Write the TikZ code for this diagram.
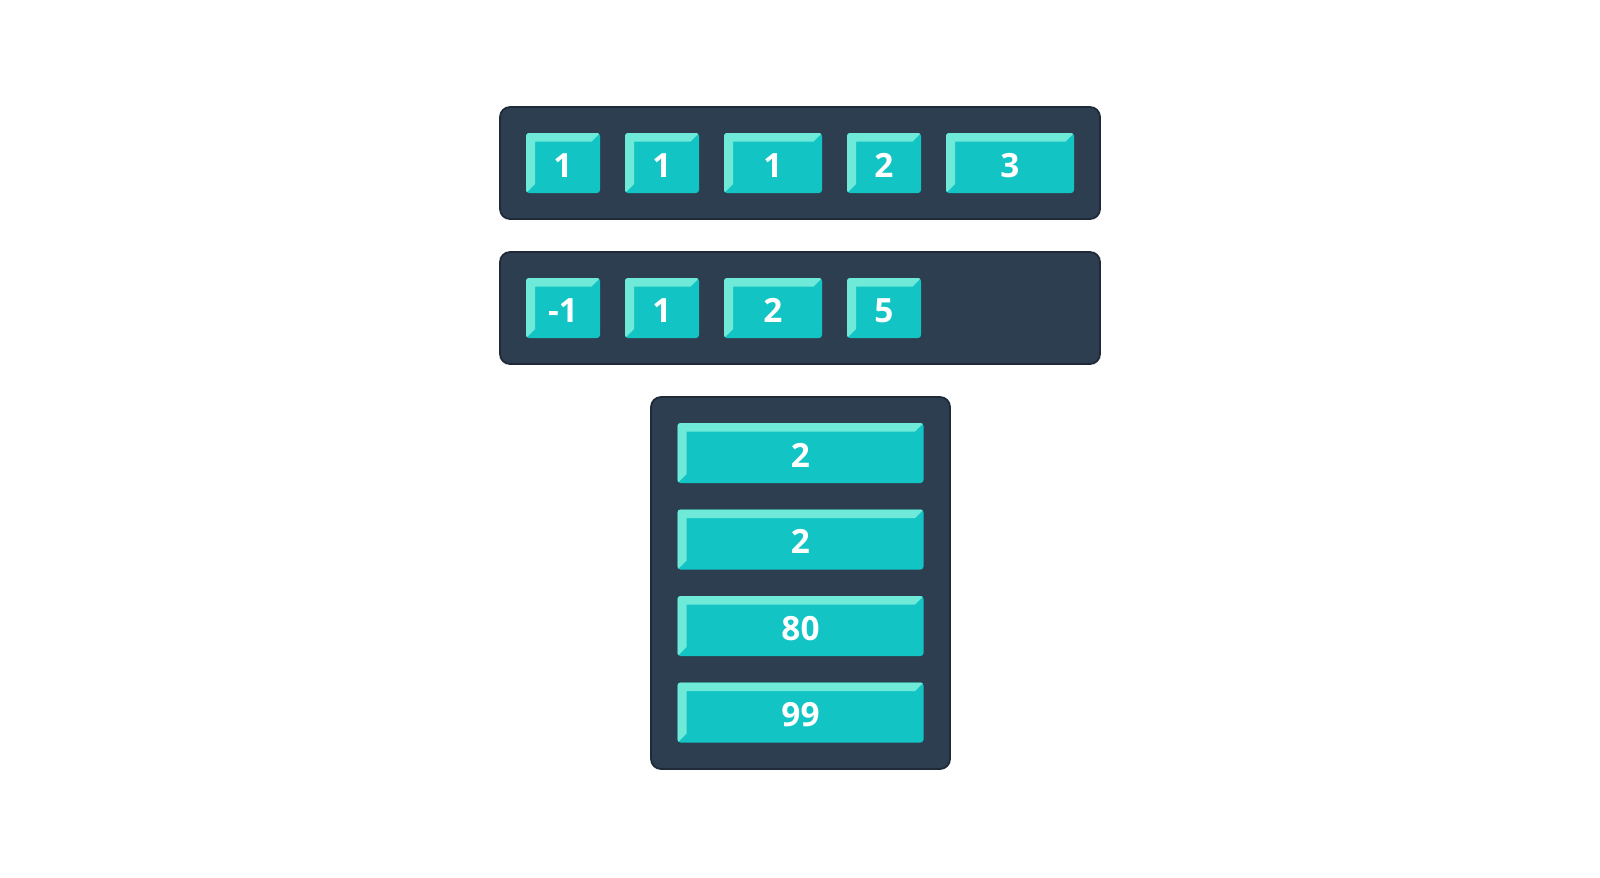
\documentclass[tikz,border=0pt]{standalone}
\usepackage{fontspec}
\setmainfont{Open Sans}
\usetikzlibrary{positioning,calc}

\definecolor{panelfill}{HTML}{2D3E50}
\definecolor{panelline}{HTML}{1E2A38}
\definecolor{cellbody}{HTML}{12C4C4}
\definecolor{celllight}{HTML}{6FEAD8}

\begin{document}
\begin{tikzpicture}[
  node distance=0.25cm,
  panel/.style={draw=panelline, fill=panelfill, line width=0.5pt,
    rounded corners=0.1cm, inner sep=0pt, outer sep=0pt},
  cell/.style={fill=cellbody, rounded corners=0.03cm, inner sep=0pt, outer sep=0pt,
    minimum height=0.6cm, text=white, text height=8.2pt,
    font=\fontsize{9.5}{9.5}\selectfont\bfseries,
    path picture={
      \fill[celllight, sharp corners] (path picture bounding box.south west)
        -- (path picture bounding box.north west)
        -- (path picture bounding box.north east)
        -- ($(path picture bounding box.north east)+(-0.085,-0.085)$)
        -- ($(path picture bounding box.north west)+(0.09,-0.085)$)
        -- ($(path picture bounding box.south west)+(0.09,0.09)$) -- cycle;
    }},
  small/.style={cell, minimum width=0.74cm},
  medium/.style={cell, minimum width=0.98cm},
  wide/.style={cell, minimum width=1.28cm},
  long/.style={cell, minimum width=2.46cm}
]

\useasboundingbox (0,0) rectangle (16,-8.77);

% panels
\node[panel, minimum width=6cm, minimum height=1.12cm] (row1) at (8,-1.63) {};
\node[panel, minimum width=6cm, minimum height=1.12cm] (row2) at (8,-3.08) {};
\node[panel, minimum width=2.99cm, minimum height=3.72cm] (col) at (8.005,-5.83) {};

% first row
\node[small, right=0.26cm of row1.west] (a1) {1};
\node[small, right=of a1] (a2) {1};
\node[medium, right=of a2] (a3) {1};
\node[small, right=of a3] (a4) {2};
\node[wide, right=of a4] (a5) {3};

% second row
\node[small, right=0.26cm of row2.west] (b1) {-1};
\node[small, right=of b1] (b2) {1};
\node[medium, right=of b2] (b3) {2};
\node[small, right=of b3] (b4) {5};

% column
\node[long, below=0.26cm of col.north] (c1) {2};
\node[long, below=0.265cm of c1] (c2) {2};
\node[long, below=0.265cm of c2] (c3) {80};
\node[long, below=0.265cm of c3] (c4) {99};

\end{tikzpicture}
\end{document}
